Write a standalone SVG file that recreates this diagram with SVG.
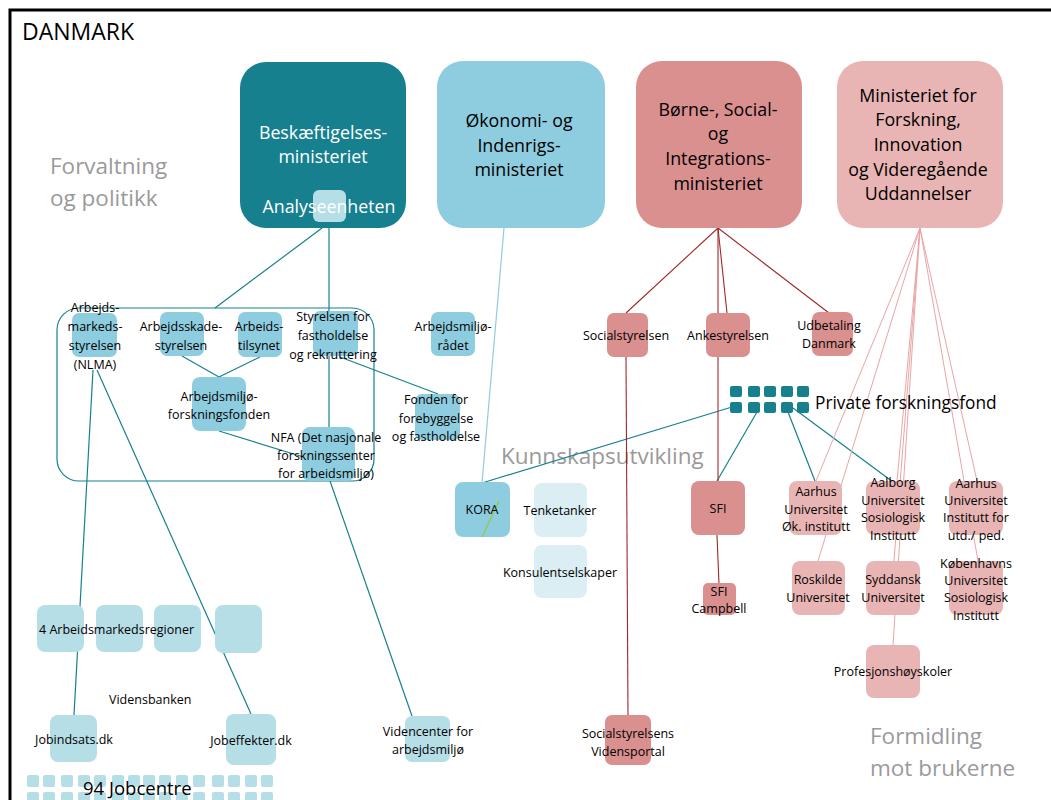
<svg xmlns="http://www.w3.org/2000/svg" width="1051" height="800" viewBox="0 0 1051 800">
<style>
text{font-family:"Open Sans","Noto Sans",sans-serif;fill:#000}
.sm{font-size:12.5px;text-anchor:middle}
.mn{font-size:17.8px;text-anchor:middle}
.hd{font-size:22.5px;fill:#9a9a9a}
.ct{stroke:#17808f;stroke-width:1.2;fill:none}
.cl{stroke:#8ecddf;stroke-width:1.2;fill:none}
.cr{stroke:#a02828;stroke-width:1.1;fill:none}
.cp{stroke:#e9a5a5;stroke-width:1;fill:none}
.b1{fill:#8ecddf}.b2{fill:#b6dee7}.b3{fill:#daeef3}.r1{fill:#d9908f}.r2{fill:#e8b5b4}.tl{fill:#17808f}
</style>
<rect width="1051" height="800" fill="#fff"/>
<rect x="10" y="10" width="1060" height="800" fill="none" stroke="#000" stroke-width="3"/>
<text x="22" y="40" font-size="23">DANMARK</text>
<text class="hd" x="50" y="174">Forvaltning</text>
<text class="hd" x="50" y="206">og politikk</text>
<text class="hd" x="501" y="464">Kunnskapsutvikling</text>
<text class="hd" x="870" y="744">Formidling</text>
<text class="hd" x="870" y="776">mot brukerne</text>

<g id="connectors">
<rect x="57" y="308" width="317" height="173" rx="22" class="ct"/>
<line class="ct" x1="322" y1="228" x2="215" y2="308"/>
<line class="ct" x1="329" y1="228" x2="329" y2="427"/>
<line class="ct" x1="182" y1="356" x2="219" y2="377"/>
<line class="ct" x1="260" y1="357" x2="219" y2="377"/>
<line class="ct" x1="219" y1="431" x2="310" y2="459"/>
<line class="ct" x1="340" y1="357" x2="438" y2="394"/>
<line class="ct" x1="93" y1="370" x2="74" y2="715"/>
<line class="ct" x1="97" y1="370" x2="251" y2="714"/>
<line class="ct" x1="330" y1="481" x2="412" y2="716"/>
<line class="cl" x1="504" y1="228" x2="482" y2="483"/>
<line class="ct" x1="732" y1="407" x2="482" y2="483"/>
<line class="ct" x1="757" y1="412" x2="717" y2="481"/>
<line class="ct" x1="788" y1="412" x2="815" y2="481"/>
<line class="ct" x1="793" y1="408" x2="893" y2="482"/>
<line class="cr" x1="718" y1="228" x2="626" y2="313"/>
<line class="cr" x1="718" y1="228" x2="718" y2="481"/>
<line class="cr" x1="718" y1="228" x2="727" y2="313"/>
<line class="cr" x1="718" y1="228" x2="829" y2="313"/>
<line class="cr" x1="626" y1="357" x2="628" y2="716"/>
<line class="cr" x1="717" y1="535" x2="719" y2="584"/>
<line class="cp" x1="920" y1="228" x2="816" y2="481"/>
<line class="cp" x1="920" y1="228" x2="818" y2="561"/>
<line class="cp" x1="920" y1="228" x2="897" y2="481"/>
<line class="cp" x1="920" y1="228" x2="894" y2="561"/>
<line class="cp" x1="920" y1="228" x2="893" y2="645"/>
<line class="cp" x1="920" y1="228" x2="977" y2="481"/>
<line class="cp" x1="920" y1="228" x2="978" y2="561"/>
</g>

<g id="n-beskaeftigelse">
<rect x="240" y="62" width="166" height="166" rx="26" class="tl"/>
<rect x="313" y="190" width="33" height="32" rx="6" class="b2"/>
<text class="mn" x="323" y="139" style="fill:#fff">Beskæftigelses-</text>
<text class="mn" x="323" y="163" style="fill:#fff">ministeriet</text>
<text class="mn" x="329" y="213" style="fill:#fff">Analyseenheten</text>
</g>
<g id="n-okonomi">
<rect x="437" y="61" width="168" height="167" rx="26" class="b1"/>
<text class="mn" x="519" y="127">Økonomi- og</text>
<text class="mn" x="519" y="152">Indenrigs-</text>
<text class="mn" x="519" y="176">ministeriet</text>
</g>
<g id="n-borne">
<rect x="636" y="61" width="166" height="167" rx="26" class="r1"/>
<text class="mn" x="718" y="116">Børne-, Social-</text>
<text class="mn" x="718" y="140">og</text>
<text class="mn" x="718" y="165">Integrations-</text>
<text class="mn" x="718" y="190">ministeriet</text>
</g>
<g id="n-forskning">
<rect x="837" y="61" width="166" height="167" rx="26" class="r2"/>
<text class="mn" x="918" y="102">Ministeriet for</text>
<text class="mn" x="918" y="126">Forskning,</text>
<text class="mn" x="918" y="151">Innovation</text>
<text class="mn" x="918" y="176">og Videregående</text>
<text class="mn" x="918" y="200">Uddannelser</text>
</g>

<g id="n-nlma">
<rect x="72" y="313" width="45" height="44" rx="7" class="b1"/>
<text class="sm" x="95" y="312">Arbejds-</text>
<text class="sm" x="95" y="331">markeds-</text>
<text class="sm" x="95" y="350">styrelsen</text>
<text class="sm" x="95" y="369">(NLMA)</text>
</g>
<g id="n-arbejdsskade">
<rect x="160" y="312" width="44" height="44" rx="7" class="b1"/>
<text class="sm" x="181" y="331">Arbejdsskade-</text>
<text class="sm" x="181" y="350">styrelsen</text>
</g>
<g id="n-arbeidstilsynet">
<rect x="238" y="312" width="44" height="45" rx="7" class="b1"/>
<text class="sm" x="259" y="331">Arbeids-</text>
<text class="sm" x="259" y="350">tilsynet</text>
</g>
<g id="n-styrelsen">
<rect x="313" y="311" width="45" height="45" rx="7" class="b1"/>
<text class="sm" x="333" y="321">Styrelsen for</text>
<text class="sm" x="333" y="340">fastholdelse</text>
<text class="sm" x="333" y="359">og rekruttering</text>
</g>
<g id="n-arbejdsmiljoradet">
<rect x="431" y="312" width="44" height="44" rx="7" class="b1"/>
<text class="sm" x="453" y="331">Arbejdsmiljø-</text>
<text class="sm" x="453" y="350">rådet</text>
</g>
<g id="n-amff">
<rect x="192" y="377" width="54" height="54" rx="8" class="b1"/>
<text class="sm" x="219" y="401">Arbejdsmiljø-</text>
<text class="sm" x="219" y="419">forskningsfonden</text>
</g>
<g id="n-nfa">
<rect x="302" y="427" width="53" height="54" rx="8" class="b1"/>
<text class="sm" x="326" y="442">NFA (Det nasjonale</text>
<text class="sm" x="326" y="460">forskningssenter</text>
<text class="sm" x="326" y="478">for arbeidsmiljø)</text>
</g>
<g id="n-fonden">
<rect x="415" y="394" width="45" height="46" rx="7" class="b1"/>
<text class="sm" x="436" y="404">Fonden for</text>
<text class="sm" x="436" y="423">forebyggelse</text>
<text class="sm" x="436" y="441">og fastholdelse</text>
</g>

<g id="n-socialstyrelsen">
<rect x="607" y="313" width="41" height="44" rx="7" class="r1"/>
<text class="sm" x="626" y="340">Socialstyrelsen</text>
</g>
<g id="n-ankestyrelsen">
<rect x="706" y="313" width="44" height="44" rx="7" class="r1"/>
<text class="sm" x="728" y="340">Ankestyrelsen</text>
</g>
<g id="n-udbetaling">
<rect x="812" y="312" width="41" height="44" rx="7" class="r1"/>
<text class="sm" x="829" y="330">Udbetaling</text>
<text class="sm" x="829" y="348">Danmark</text>
</g>

<g id="n-private">
<rect x="730" y="386" width="12" height="11" rx="2" class="tl"/>
<rect x="748" y="386" width="12" height="11" rx="2" class="tl"/>
<rect x="764" y="386" width="12" height="11" rx="2" class="tl"/>
<rect x="781" y="386" width="12" height="11" rx="2" class="tl"/>
<rect x="797" y="386" width="12" height="11" rx="2" class="tl"/>
<rect x="730" y="402" width="12" height="11" rx="2" class="tl"/>
<rect x="748" y="402" width="12" height="11" rx="2" class="tl"/>
<rect x="764" y="402" width="12" height="11" rx="2" class="tl"/>
<rect x="781" y="402" width="12" height="11" rx="2" class="tl"/>
<rect x="797" y="402" width="12" height="11" rx="2" class="tl"/>
<text x="815" y="409" font-size="17.3">Private forskningsfond</text>
</g>

<g id="n-kora">
<rect x="455" y="482" width="55" height="55" rx="8" class="b1"/>
<line x1="499" y1="501" x2="482" y2="537" stroke="#9bc53d" stroke-width="1.2"/>
<text class="sm" x="482" y="514">KORA</text>
</g>
<g id="n-tenketanker">
<rect x="534" y="483" width="53" height="54" rx="8" class="b3"/>
<text class="sm" x="560" y="515">Tenketanker</text>
</g>
<g id="n-konsulent">
<rect x="534" y="545" width="53" height="53" rx="8" class="b3"/>
<text class="sm" x="560" y="577">Konsulentselskaper</text>
</g>
<g id="n-sfi">
<rect x="691" y="481" width="54" height="54" rx="8" class="r1"/>
<text class="sm" x="718" y="513">SFI</text>
</g>
<g id="n-campbell">
<rect x="703" y="583" width="33" height="32" rx="5" class="r1"/>
<text class="sm" x="719" y="596">SFI</text>
<text class="sm" x="719" y="613">Campbell</text>
</g>
<g id="n-vidensportal">
<rect x="605" y="715" width="46" height="50" rx="7" class="r1"/>
<text class="sm" x="628" y="738">Socialstyrelsens</text>
<text class="sm" x="628" y="756">Vidensportal</text>
</g>

<g id="n-aarhus-ok">
<rect x="789" y="481" width="53" height="54" rx="8" class="r2"/>
<text class="sm" x="816" y="496">Aarhus</text>
<text class="sm" x="816" y="514">Universitet</text>
<text class="sm" x="816" y="531">Øk. institutt</text>
</g>
<g id="n-aalborg">
<rect x="866" y="481" width="54" height="54" rx="8" class="r2"/>
<text class="sm" x="893" y="487">Aalborg</text>
<text class="sm" x="893" y="505">Universitet</text>
<text class="sm" x="893" y="522">Sosiologisk</text>
<text class="sm" x="893" y="540">Institutt</text>
</g>
<g id="n-aarhus-ped">
<rect x="949" y="481" width="54" height="54" rx="8" class="r2"/>
<text class="sm" x="976" y="488">Aarhus</text>
<text class="sm" x="976" y="505">Universitet</text>
<text class="sm" x="976" y="522">Institutt for</text>
<text class="sm" x="976" y="540">utd./ ped.</text>
</g>
<g id="n-roskilde">
<rect x="792" y="561" width="53" height="54" rx="8" class="r2"/>
<text class="sm" x="818" y="584">Roskilde</text>
<text class="sm" x="818" y="602">Universitet</text>
</g>
<g id="n-syddansk">
<rect x="866" y="561" width="54" height="54" rx="8" class="r2"/>
<text class="sm" x="893" y="584">Syddansk</text>
<text class="sm" x="893" y="602">Universitet</text>
</g>
<g id="n-kobenhavn">
<rect x="949" y="561" width="54" height="54" rx="8" class="r2"/>
<text class="sm" x="976" y="568">Københavns</text>
<text class="sm" x="976" y="585">Universitet</text>
<text class="sm" x="976" y="602">Sosiologisk</text>
<text class="sm" x="976" y="620">Institutt</text>
</g>
<g id="n-profesjon">
<rect x="866" y="645" width="54" height="53" rx="8" class="r2"/>
<text class="sm" x="893" y="676">Profesjonshøyskoler</text>
</g>

<g id="n-regioner">
<rect x="37" y="605" width="47" height="47" rx="8" class="b2"/>
<rect x="96" y="605" width="47" height="47" rx="8" class="b2"/>
<rect x="154" y="605" width="47" height="47" rx="8" class="b2"/>
<rect x="215" y="605" width="47" height="48" rx="8" class="b2"/>
<text x="39" y="634" font-size="12.5">4 Arbeidsmarkedsregioner</text>
</g>
<g id="n-vidensbanken">
<text x="109" y="704" font-size="12.5">Vidensbanken</text>
</g>
<g id="n-jobindsats">
<rect x="50" y="715" width="47" height="47" rx="8" class="b2"/>
<text class="sm" x="74" y="744">Jobindsats.dk</text>
</g>
<g id="n-jobeffekter">
<rect x="226" y="714" width="50" height="51" rx="8" class="b2"/>
<text class="sm" x="251" y="745">Jobeffekter.dk</text>
</g>
<g id="n-videncenter">
<rect x="405" y="716" width="45" height="46" rx="7" class="b2"/>
<text class="sm" x="428" y="736">Videncenter for</text>
<text class="sm" x="428" y="754">arbejdsmiljø</text>
</g>
<g id="n-jobcentre" class="b2">
<rect x="27" y="775" width="12" height="12" rx="2"/><rect x="43" y="775" width="12" height="12" rx="2"/><rect x="61" y="775" width="12" height="12" rx="2"/><rect x="78" y="775" width="12" height="12" rx="2"/><rect x="94" y="775" width="12" height="12" rx="2"/><rect x="112" y="775" width="12" height="12" rx="2"/><rect x="128" y="775" width="12" height="12" rx="2"/><rect x="143" y="775" width="12" height="12" rx="2"/><rect x="159" y="775" width="12" height="12" rx="2"/><rect x="176" y="775" width="12" height="12" rx="2"/><rect x="193" y="775" width="12" height="12" rx="2"/><rect x="212" y="775" width="12" height="12" rx="2"/><rect x="228" y="775" width="12" height="12" rx="2"/><rect x="245" y="775" width="12" height="12" rx="2"/><rect x="261" y="775" width="12" height="12" rx="2"/>
<rect x="27" y="792" width="12" height="12" rx="2"/><rect x="43" y="792" width="12" height="12" rx="2"/><rect x="61" y="792" width="12" height="12" rx="2"/><rect x="78" y="792" width="12" height="12" rx="2"/><rect x="94" y="792" width="12" height="12" rx="2"/><rect x="112" y="792" width="12" height="12" rx="2"/><rect x="128" y="792" width="12" height="12" rx="2"/><rect x="143" y="792" width="12" height="12" rx="2"/><rect x="159" y="792" width="12" height="12" rx="2"/><rect x="176" y="792" width="12" height="12" rx="2"/><rect x="193" y="792" width="12" height="12" rx="2"/><rect x="212" y="792" width="12" height="12" rx="2"/><rect x="228" y="792" width="12" height="12" rx="2"/><rect x="245" y="792" width="12" height="12" rx="2"/><rect x="261" y="792" width="12" height="12" rx="2"/>
<text x="83" y="795" font-size="18.5">94 Jobcentre</text>
</g>
</svg>
